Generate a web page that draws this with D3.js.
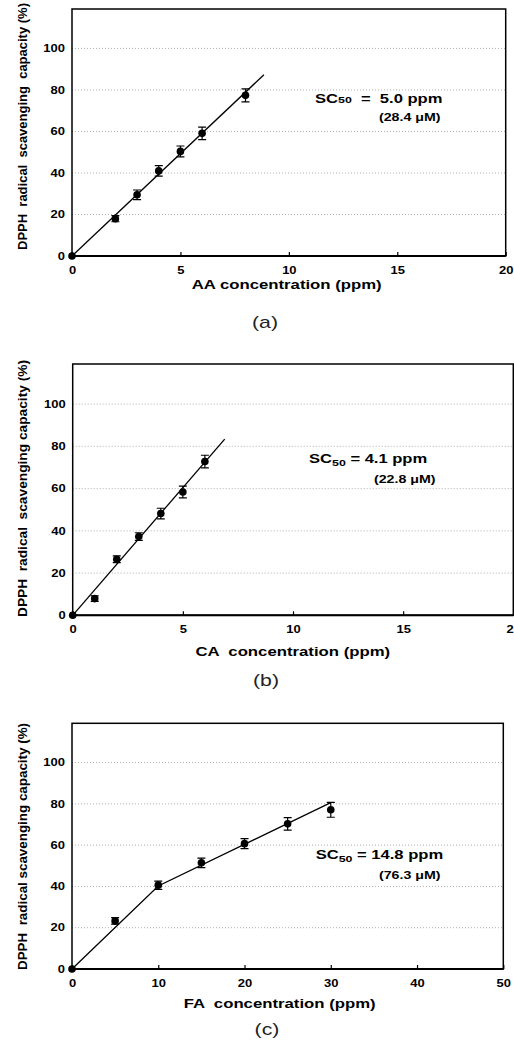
<!DOCTYPE html>
<html>
<head>
<meta charset="utf-8">
<script src="https://cdn.jsdelivr.net/npm/d3@7/dist/d3.min.js"></script>
<style>
body { margin: 0; background: #fff; }
text { font-family: "Liberation Sans", Arial, sans-serif; }
</style>
</head>
<body>
<div id="chart"></div>
<script>
var w = 514;
var h = 1049;

// (a) AA
var aConc = [0, 2, 3, 4, 5, 6, 8];
var aMean = [0, 18, 29.5, 41, 50.4, 59.1, 77.4];
var aErr  = [0, 1.5, 2.3, 2.5, 2.6, 3, 3.1];
var aFitX = [0, 8.85];
var aFitY = [0, 87.3];

// (b) CA
var bConc = [0, 1, 2, 3, 4, 5, 6];
var bMean = [0, 7.9, 26.5, 37.3, 48.2, 58.4, 72.8];
var bErr  = [0, 1.3, 1.6, 1.8, 2.5, 2.8, 3];
var bFitX = [0, 6.9];
var bFitY = [0, 83.4];

// (c) FA
var cConc = [0, 5, 10, 15, 20, 25, 30];
var cMean = [0, 23.3, 40.6, 51.4, 60.7, 70.3, 77.1];
var cErr  = [0, 1.6, 2, 2.3, 2.4, 3, 3.6];
var cFitX = [0, 10, 30];
var cFitY = [0, 40.2, 80.6];

var yTicks = [0, 20, 40, 60, 80, 100];
var xTicksAB = [0, 5, 10, 15, 20];
var xTicksC = [0, 10, 20, 30, 40, 50];
var yMax = 119;

var panels = [
    {conc: aConc, mean: aMean, err: aErr, fitX: aFitX, fitY: aFitY, xMax: 20, xTicks: xTicksAB,
     left: 72, right: 505.7, top: 9, bottom: 256,
     yTitle: "DPPH  radical  scavenging  capacity (%)", yTitleBottom: 250, yTitleLen: 247,
     xTitle: "AA concentration (ppm)", xTitleX: 286.7, xTitleY: 289,
     tag: "(a)", tagX: 265, tagY: 328,
     sc: ["SC", "50", "  =  5.0 ppm"], sub: false, scX: 315, scY: 103,
     um: "(28.4 \u03BCM)", umX: 379, umY: 121},
    {conc: bConc, mean: bMean, err: bErr, fitX: bFitX, fitY: bFitY, xMax: 20, xTicks: xTicksAB,
     left: 72.7, right: 513.3, top: 364, bottom: 615.3,
     yTitle: "DPPH  radical  scavenging capacity (%)", yTitleBottom: 617, yTitleLen: 257,
     xTitle: "CA  concentration (ppm)", xTitleX: 292.8, xTitleY: 656,
     tag: "(b)", tagX: 266, tagY: 686,
     sc: ["SC", "50", " = 4.1 ppm"], sub: true, scX: 309, scY: 463,
     um: "(22.8 \u03BCM)", umX: 374, umY: 483},
    {conc: cConc, mean: cMean, err: cErr, fitX: cFitX, fitY: cFitY, xMax: 50, xTicks: xTicksC,
     left: 72, right: 503.3, top: 723.3, bottom: 969,
     yTitle: "DPPH  radical scavenging capacity (%)", yTitleBottom: 970, yTitleLen: 247,
     xTitle: "FA  concentration (ppm)", xTitleX: 279.7, xTitleY: 1008,
     tag: "(c)", tagX: 267, tagY: 1035,
     sc: ["SC", "50", " = 14.8 ppm"], sub: true, scX: 315.7, scY: 859,
     um: "(76.3 \u03BCM)", umX: 379, umY: 879.3}
];

var svg = d3.select("#chart")
            .append("svg")
            .attr("width", w)
            .attr("height", h);

svg.append("rect").attr("width", w).attr("height", h).attr("fill", "#fff");

// text stretched horizontally like the scanned figure
function wideText(parent, x, y, sx, anchor) {
    return parent.append("g")
        .attr("transform", "translate(" + x + "," + y + ") scale(" + sx + ",1)")
        .append("text")
        .attr("text-anchor", anchor || "start")
        .style("white-space", "pre");
}

panels.forEach(function(p) {
    var x = d3.scaleLinear().domain([0, p.xMax]).range([p.left, p.right]);
    var y = d3.scaleLinear().domain([0, yMax]).range([p.bottom, p.top]);
    var g = svg.append("g");

    // dotted grid
    g.selectAll(".grid")
        .data(yTicks.slice(1))
        .enter()
        .append("line")
        .attr("x1", p.left)
        .attr("x2", p.right)
        .attr("y1", function(d) { return y(d); })
        .attr("y2", function(d) { return y(d); })
        .attr("stroke", "#b0b0b0")
        .attr("stroke-width", 1)
        .attr("stroke-dasharray", "1,2");

    // frame
    g.append("rect")
        .attr("x", p.left)
        .attr("y", y(yMax))
        .attr("width", p.right - p.left)
        .attr("height", p.bottom - y(yMax))
        .attr("fill", "none")
        .attr("stroke", "#000")
        .attr("stroke-width", 1.5);
    g.append("line")
        .attr("x1", p.left).attr("x2", p.right)
        .attr("y1", p.bottom).attr("y2", p.bottom)
        .attr("stroke", "#000").attr("stroke-width", 2);

    // y axis
    var sxTick = 1.3;
    var ya = g.append("g")
        .attr("transform", "translate(" + p.left + ",0)")
        .call(d3.axisLeft(y).tickValues(yTicks).tickSize(0).tickPadding(7 / sxTick));
    ya.select(".domain").remove();
    ya.selectAll("text")
        .attr("font-family", "Liberation Sans, Arial, sans-serif")
        .attr("font-size", 10)
        .attr("font-weight", "bold")
        .attr("fill", "#000")
        .attr("transform", "scale(" + sxTick + ",1)");

    // x axis
    var xa = g.append("g")
        .attr("transform", "translate(0," + p.bottom + ")")
        .call(d3.axisBottom(x).tickValues(p.xTicks).tickSizeInner(-4).tickSizeOuter(0).tickPadding(10.5));
    xa.select(".domain").remove();
    xa.selectAll("line").attr("stroke", "#000").attr("stroke-width", 1.2);
    xa.selectAll("text")
        .attr("font-family", "Liberation Sans, Arial, sans-serif")
        .attr("font-size", 10)
        .attr("font-weight", "bold")
        .attr("fill", "#000")
        .attr("transform", "scale(" + sxTick + ",1)");

    // fitted line
    var fit = p.fitX.map(function(v, i) { return [v, p.fitY[i]]; });
    g.append("path")
        .datum(fit)
        .attr("d", d3.line()
            .x(function(d) { return x(d[0]); })
            .y(function(d) { return y(d[1]); }))
        .attr("fill", "none")
        .attr("stroke", "#000")
        .attr("stroke-width", 1.3);

    var pts = p.conc.map(function(c, i) { return {c: c, m: p.mean[i], e: p.err[i]}; });
    var withErr = pts.filter(function(d) { return d.e > 0; });

    // error bars
    g.selectAll(".eb")
        .data(withErr)
        .enter()
        .append("path")
        .attr("d", function(d) {
            var cx = x(d.c), y1 = y(d.m + d.e), y2 = y(d.m - d.e);
            return "M" + (cx - 4) + "," + y1 + "H" + (cx + 4) +
                   "M" + cx + "," + y1 + "V" + y2 +
                   "M" + (cx - 4) + "," + y2 + "H" + (cx + 4);
        })
        .attr("fill", "none")
        .attr("stroke", "#000")
        .attr("stroke-width", 1.2);

    // points
    g.selectAll(".pt")
        .data(pts)
        .enter()
        .append("circle")
        .attr("cx", function(d) { return x(d.c); })
        .attr("cy", function(d) { return y(d.m); })
        .attr("r", 3.8)
        .attr("fill", "#000");

    // y title
    g.append("text")
        .attr("transform", "translate(26.5," + p.yTitleBottom + ") rotate(-90)")
        .attr("text-anchor", "start")
        .attr("font-size", 12.5)
        .attr("font-weight", "bold")
        .attr("textLength", p.yTitleLen)
        .attr("lengthAdjust", "spacingAndGlyphs")
        .style("white-space", "pre")
        .text(p.yTitle);

    // x title
    wideText(g, p.xTitleX, p.xTitleY, 1.34, "middle")
        .attr("font-size", 12.5)
        .attr("font-weight", "bold")
        .text(p.xTitle);

    // panel tag
    wideText(g, p.tagX, p.tagY, 1.25, "middle")
        .attr("font-family", "DejaVu Serif, serif")
        .attr("font-size", 17)
        .attr("fill", "#222")
        .text(p.tag);

    // SC50 note
    var sc = wideText(g, p.scX, p.scY, 1.38, "start")
        .attr("font-size", 12)
        .attr("font-weight", "bold");
    sc.append("tspan").text(p.sc[0]);
    sc.append("tspan").attr("font-size", 9).attr("dy", p.sub ? 3 : 0).text(p.sc[1]);
    sc.append("tspan").attr("dy", p.sub ? -3 : 0).text(p.sc[2]);

    wideText(g, p.umX, p.umY, 1.42, "start")
        .attr("font-size", 10)
        .attr("font-weight", "bold")
        .text(p.um);
});
</script>
</body>
</html>
